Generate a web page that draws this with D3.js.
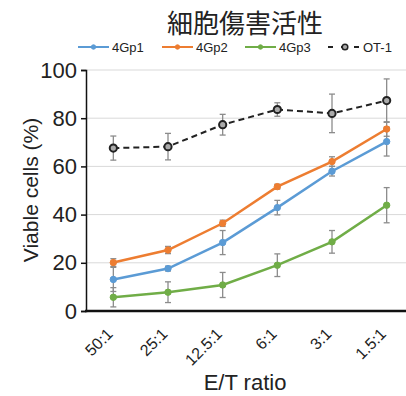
<!DOCTYPE html>
<html lang="ja">
<head>
<meta charset="UTF-8">
<title>細胞傷害活性</title>
<script src="https://d3js.org/d3.v7.min.js"></script>
<style>
    body, html { margin: 0; padding: 0; background: #fff; }
    svg text { font-family: "Liberation Sans", Arial, sans-serif; fill: #222; }
</style>
</head>
<body>
<div id="chart"></div>
<script>
    // data
    var ratios = ["50:1", "25:1", "12.5:1", "6:1", "3:1", "1.5:1"];
    var gp1 = [13.1, 17.6, 28.4, 42.9, 58.0, 70.3];
    var gp1Err = [5.0, 1.0, 5.0, 3.0, 2.0, 6.0];
    var gp2 = [20.1, 25.3, 36.4, 51.6, 62.0, 75.5];
    var gp2Err = [1.6, 1.5, 1.3, 1.0, 2.0, 3.0];
    var gp3 = [5.7, 7.8, 10.8, 19.0, 28.7, 43.9];
    var gp3Err = [4.0, 4.3, 5.2, 4.7, 4.7, 7.3];
    var ot1 = [67.6, 68.2, 77.3, 83.6, 82.0, 87.3];
    var ot1Err = [5.0, 5.5, 4.3, 2.8, 8.0, 9.0];
    var yTicks = [0, 20, 40, 60, 80, 100];

    var series = [
        { name: "4Gp1", vals: gp1, err: gp1Err, color: "#5B9BD5", dash: null },
        { name: "4Gp2", vals: gp2, err: gp2Err, color: "#ED7D31", dash: null },
        { name: "4Gp3", vals: gp3, err: gp3Err, color: "#70AD47", dash: null },
        { name: "OT-1", vals: ot1, err: ot1Err, color: "#222", dash: "6,4" }
    ];

    var width = 406, height = 396;
    var plotLeft = 86, plotRight = 414, plotTop = 70, plotBottom = 311;

    var svg = d3.select("#chart").append("svg")
        .attr("width", width)
        .attr("height", height);

    var x = d3.scalePoint().domain(ratios).range([plotLeft, plotRight]).padding(0.5);
    var y = d3.scaleLinear().domain([0, 100]).range([plotBottom, plotTop]);

    // grid
    svg.append("g")
        .selectAll("line")
        .data(yTicks.slice(1))
        .enter().append("line")
        .attr("x1", plotLeft).attr("x2", width)
        .attr("y1", d => y(d)).attr("y2", d => y(d))
        .style("stroke", "#d9d9d9")
        .style("stroke-width", 1);

    // y axis
    var yAxis = svg.append("g")
        .attr("transform", "translate(" + plotLeft + ",0)")
        .call(d3.axisLeft(y).tickValues(yTicks).tickSize(5).tickPadding(4));
    yAxis.select(".domain").style("stroke", "#111").style("stroke-width", 1.5);
    yAxis.selectAll(".tick line").style("stroke", "#111").style("stroke-width", 1.5);
    yAxis.selectAll("text").style("font-size", "22px").style("fill", "#222");

    // x axis
    var xAxis = svg.append("g")
        .attr("transform", "translate(0," + plotBottom + ")")
        .call(d3.axisBottom(x).tickSize(0).tickPadding(0));
    xAxis.select(".domain").remove();
    svg.append("line")
        .attr("x1", plotLeft - 1).attr("x2", width)
        .attr("y1", plotBottom).attr("y2", plotBottom)
        .style("stroke", "#111").style("stroke-width", 2.5);
    xAxis.selectAll("text")
        .style("font-size", "16px")
        .style("text-anchor", "end")
        .attr("dy", null)
        .attr("y", 0)
        .attr("transform", "translate(0,24) rotate(-45)");

    // error bars
    series.forEach(function (s) {
        var g = svg.append("g");
        s.vals.forEach(function (v, i) {
            var cx = x(ratios[i]);
            var y1 = y(v + s.err[i]), y2 = y(v - s.err[i]);
            g.append("line").attr("x1", cx).attr("x2", cx).attr("y1", y1).attr("y2", y2);
            g.append("line").attr("x1", cx - 3).attr("x2", cx + 3).attr("y1", y1).attr("y2", y1);
            g.append("line").attr("x1", cx - 3).attr("x2", cx + 3).attr("y1", y2).attr("y2", y2);
        });
        g.selectAll("line").style("stroke", "#8c8c8c").style("stroke-width", 1.3);
    });

    // lines and markers
    var line = d3.line()
        .x((d, i) => x(ratios[i]))
        .y(d => y(d));

    series.forEach(function (s) {
        svg.append("path")
            .datum(s.vals)
            .attr("d", line)
            .style("fill", "none")
            .style("stroke", s.color)
            .style("stroke-width", s.dash ? 2 : 2.5)
            .style("stroke-dasharray", s.dash);
        svg.append("g").selectAll("circle")
            .data(s.vals)
            .enter().append("circle")
            .attr("cx", (d, i) => x(ratios[i]))
            .attr("cy", d => y(d))
            .attr("r", s.dash ? 3.6 : 3.2)
            .style("fill", s.dash ? "#aaa" : s.color)
            .style("stroke", s.dash ? "#222" : s.color)
            .style("stroke-width", s.dash ? 2 : 1);
    });

    // title
    svg.append("text")
        .attr("x", 245).attr("y", 33)
        .style("text-anchor", "middle")
        .style("font-family", "'Noto Sans CJK JP', sans-serif")
        .style("font-size", "26px")
        .style("font-weight", 400)
        .text("細胞傷害活性");

    // legend
    var legendX = [78, 162, 245, 328];
    var legendY = 47;
    series.forEach(function (s, i) {
        var lg = svg.append("g").attr("transform", "translate(" + legendX[i] + "," + legendY + ")");
        lg.append("line")
            .attr("x1", 0).attr("x2", s.dash ? 33 : 31)
            .attr("y1", 0).attr("y2", 0)
            .style("stroke", s.color)
            .style("stroke-width", 2)
            .style("stroke-dasharray", s.dash ? "5,8" : null);
        lg.append("circle")
            .attr("cx", s.dash ? 17 : 15.5).attr("cy", 0)
            .attr("r", s.dash ? 2.8 : 2.2)
            .style("fill", s.dash ? "#aaa" : s.color)
            .style("stroke", s.dash ? "#222" : s.color)
            .style("stroke-width", s.dash ? 1.5 : 1);
        lg.append("text")
            .attr("x", s.dash ? 35 : 34).attr("y", 4.5)
            .style("font-size", "13px")
            .text(s.name);
    });

    // axis titles
    svg.append("text")
        .attr("transform", "translate(38,190) rotate(-90)")
        .style("text-anchor", "middle")
        .style("font-size", "21px")
        .text("Viable cells (%)");

    svg.append("text")
        .attr("x", 245).attr("y", 390)
        .style("text-anchor", "middle")
        .style("font-size", "22px")
        .text("E/T ratio");
</script>
</body>
</html>
